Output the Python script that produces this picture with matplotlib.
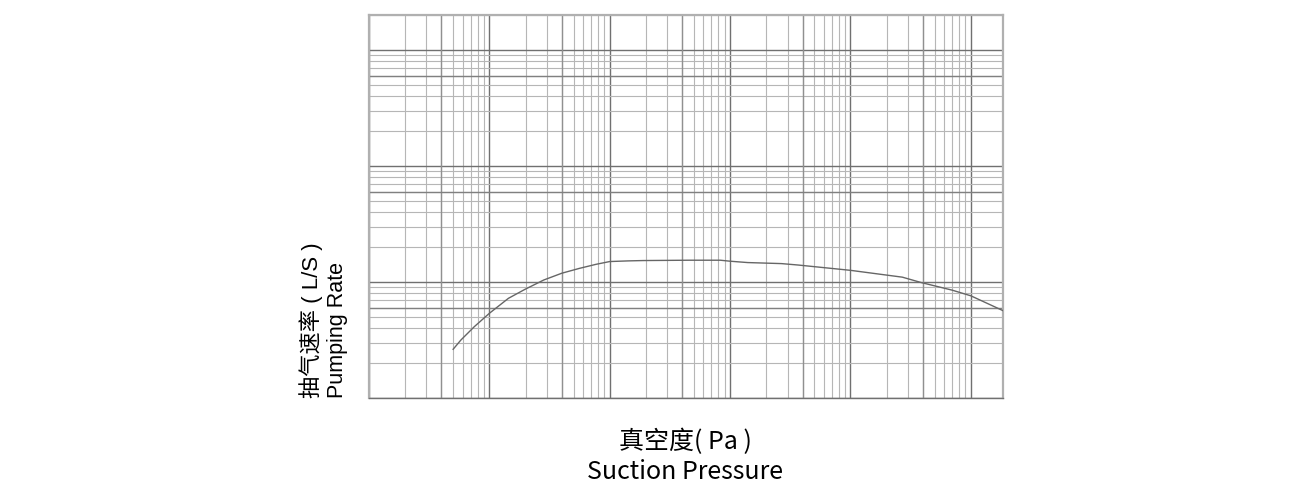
import matplotlib
matplotlib.use("Agg")
import matplotlib.pyplot as plt
from matplotlib.ticker import LogLocator, NullFormatter

# ---- data ----
pressure_pa = [0.5, 0.58, 0.75, 1.0, 1.44, 1.98, 2.83, 4.0, 5.6, 7.7, 10, 14.4, 19,
               46, 83, 100, 140, 267, 367, 1000, 2700, 3850, 7000, 10000, 18500]
pumping_rate = [2.63, 3.16, 4.12, 5.37, 7.23, 8.65, 10.4, 11.9, 13.1, 14.2, 15.0, 15.2, 15.3,
                15.4, 15.4, 15.1, 14.7, 14.4, 14.0, 12.6, 11.0, 9.9, 8.5, 7.6, 5.66]
x_limits = [0.1, 18500]
y_limits = [1, 2000]
x_emph = [0.4, 4, 40, 400, 4000]     # darker minor verticals
y_emph = [6, 60, 600]                # darker minor horizontals
xlabel_cn = "真空度( Pa )"
xlabel_en = "Suction Pressure"
ylabel_cn = "抽气速率 ( L/S )"
ylabel_en = "Pumping Rate"

fig = plt.figure(figsize=(13, 5), dpi=100)
ax = fig.add_axes([369/1300, 1-398/500, (1003-369)/1300, (398-15)/500])
ax.set_xscale("log")
ax.set_yscale("log")
ax.set_xlim(*x_limits)
ax.set_ylim(*y_limits)

for axis in (ax.xaxis, ax.yaxis):
    axis.set_major_locator(LogLocator(base=10, numticks=20))
    axis.set_minor_locator(LogLocator(base=10, subs=range(2, 10), numticks=20))
    axis.set_major_formatter(NullFormatter())
    axis.set_minor_formatter(NullFormatter())
ax.tick_params(which="both", length=0)

ax.grid(which="major", color="#707070", lw=1.0)
ax.grid(which="minor", color="#b6b6b6", lw=0.8)
for v in x_emph:
    ax.axvline(v, color="#909090", lw=1.0, zorder=1)
for v in y_emph:
    ax.axhline(v, color="#808080", lw=1.0, zorder=1)
ax.set_axisbelow(True)

for s in ("left", "right", "top"):
    ax.spines[s].set_color("#b0b0b0")
    ax.spines[s].set_linewidth(1.6)
ax.spines["bottom"].set_color("#707070")
ax.spines["bottom"].set_linewidth(1.0)

ax.plot(pressure_pa, pumping_rate, color="#666666", lw=1.0, zorder=3)

cjk = ["Noto Sans CJK SC", "DejaVu Sans"]
fig.text(685/1300, 1-442/500, xlabel_cn, ha="center", va="center", fontsize=18, family=cjk)
fig.text(685/1300, 1-472/500, xlabel_en, ha="center", va="center", fontsize=18, family=cjk)

ar = ["Liberation Sans", "Noto Sans CJK SC"]
fig.text(311/1300, 1-398/500, ylabel_cn, rotation=90, ha="center", va="bottom",
         fontsize=16, family=ar)
fig.text(337/1300, 1-398/500, ylabel_en, rotation=90, ha="center", va="bottom",
         fontsize=15.5, family=ar)

fig.savefig("out.png", dpi=100)
